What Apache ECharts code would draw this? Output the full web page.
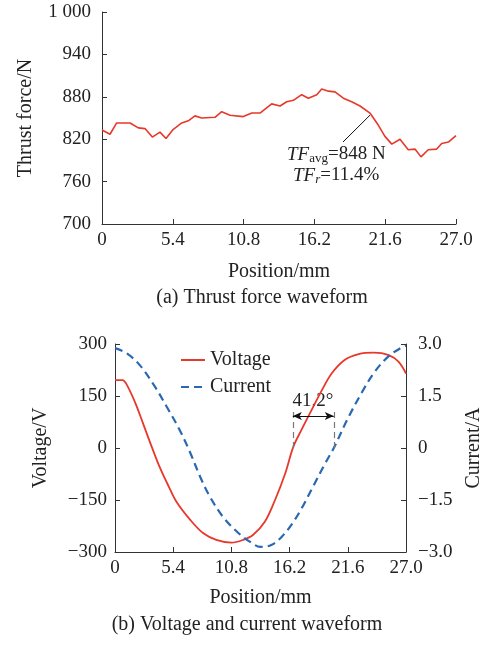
<!DOCTYPE html>
<html>
<head>
<meta charset="utf-8">
<script src="https://cdn.jsdelivr.net/npm/echarts@6/dist/echarts.min.js"></script>
<style>
  html, body { margin: 0; padding: 0; background: #fff; }
  #chart { width: 481px; height: 648px; }
</style>
</head>
<body>
<div id="chart"></div>
<script>
// (a) thrust force waveform
const forcePos = [0, 0.61, 1.12, 2.14, 2.77, 3.28, 3.84, 4.42, 4.88, 5.44, 6.08, 6.58, 7.09, 7.6, 8.62,
  9.13, 9.76, 10.78, 11.42, 12.05, 12.94, 13.58, 14.09, 14.6, 15.23, 15.74, 16.38, 16.76, 17.27,
  17.77, 18.41, 19.04, 19.68, 20.44, 21.07, 21.58, 22.1, 22.73, 23.36, 23.87, 24.33, 24.88,
  25.53, 25.91, 26.42, 27.0];
const forceVal = [833, 827, 843, 843, 836, 835, 823, 830, 821, 834, 843, 846, 853, 850, 851,
  859, 854, 852, 857, 857, 870, 867, 873, 875, 883, 878, 883, 891, 888,
  887, 878, 873, 867, 857, 840, 824, 813, 820, 805, 806, 795, 805,
  806, 814, 816, 825];
const forceTicks = [700, 760, 820, 880, 940, 1000];

// (b) voltage and current waveform
const voltPos = [0, 0.7, 1.1, 1.9, 2.6, 3.4, 4.2, 5.0, 5.7, 7.0, 8.2, 9.4, 10.8, 11.9, 12.8, 13.9,
  14.85, 15.8, 16.55, 17.3, 18.25, 19.2, 20.1, 21.3, 22.6, 24.0, 25.4, 26.3, 27.0];
const voltVal = [196, 196, 182, 129, 71, 4, -59, -112, -155, -208, -246, -265, -273, -265, -251, -213,
  -150, -73, 4, 52, 110, 167, 215, 254, 271, 275, 268, 249, 215];
const currPos = [0, 1.1, 2.3, 3.6, 4.8, 6.0, 7.0, 7.9, 8.8, 10.0, 11.3, 12.5, 13.5, 14.5, 15.5, 16.4,
  17.3, 18.4, 19.4, 20.3, 21.6, 22.9, 24.1, 25.4, 26.6, 27.0];
const currVal = [2.88, 2.73, 2.39, 1.82, 1.19, 0.52, -0.15, -0.83, -1.4, -1.98, -2.41, -2.7, -2.85, -2.8,
  -2.55, -2.2, -1.75, -1.1, -0.5, 0.0, 0.85, 1.6, 2.2, 2.65, 2.9, 2.95];

const posTicks = [0, 5.4, 10.8, 16.2, 21.6, 27.0];
const phaseMarks = [16.5, 20.3];   // zero crossings of voltage and current
const phaseText = '41.2°';

const font = '"Liberation Serif", "DejaVu Serif", serif';
const ink = '#222';
const red = '#e8382b';
const blue = '#2a68b2';

const pair = (xs, ys) => xs.map((x, i) => [x, ys[i]]);
const minus = s => String(s).replace('-', '\u2212');

const axisBase = {
  type: 'value',
  axisLine: { show: true, onZero: false, lineStyle: { color: '#333', width: 1 } },
  axisTick: { show: true, inside: true, length: 5, lineStyle: { color: '#333' } },
  axisLabel: { color: ink, fontFamily: font, fontSize: 19 },
  splitLine: { show: false },
  nameTextStyle: { color: ink, fontFamily: font, fontSize: 20 },
  nameLocation: 'middle'
};

const posAxis = (gridIndex, gap) => ({
  ...axisBase,
  gridIndex,
  min: 0,
  max: 27,
  name: 'Position/mm',
  nameGap: gap,
  axisTick: { ...axisBase.axisTick, customValues: posTicks },
  axisLabel: {
    ...axisBase.axisLabel,
    margin: 7,
    customValues: posTicks,
    formatter: v => (v === 0 ? '0' : v.toFixed(1))
  }
});

const chart = echarts.init(document.getElementById('chart'), null, { renderer: 'canvas' });

chart.setOption({
  animation: false,
  grid: [
    { left: 102, right: 25, top: 12, bottom: 424, outerBoundsMode: 'none' },
    { left: 115, right: 75, top: 344, bottom: 96, outerBoundsMode: 'none' }
  ],
  legend: {
    data: ['Voltage', 'Current'],
    orient: 'vertical',
    left: 175,
    top: 345,
    itemWidth: 24,
    itemHeight: 14,
    itemGap: 7,
    itemStyle: { opacity: 0 },
    textStyle: { color: ink, fontFamily: font, fontSize: 20 }
  },
  xAxis: [posAxis(0, 38), posAxis(1, 36)],
  yAxis: [
    {
      ...axisBase,
      gridIndex: 0,
      min: 700,
      max: 1000,
      name: 'Thrust force/N',
      nameGap: 66,
      axisTick: { ...axisBase.axisTick, customValues: forceTicks },
      axisLabel: {
        ...axisBase.axisLabel,
        margin: 11,
        customValues: forceTicks,
        formatter: v => (v === 1000 ? '1 000' : String(v))
      }
    },
    {
      ...axisBase,
      gridIndex: 1,
      min: -300,
      max: 300,
      interval: 150,
      name: 'Voltage/V',
      nameGap: 64,
      axisLabel: { ...axisBase.axisLabel, margin: 8, formatter: v => minus(v) }
    },
    {
      ...axisBase,
      gridIndex: 1,
      position: 'right',
      min: -3,
      max: 3,
      interval: 1.5,
      name: 'Current/A',
      nameGap: 54,
      nameRotate: 90,
      axisLabel: {
        ...axisBase.axisLabel,
        margin: 12,
        formatter: v => minus(v === 0 ? '0' : v.toFixed(1))
      }
    }
  ],
  series: [
    {
      name: 'Thrust force',
      type: 'line',
      xAxisIndex: 0,
      yAxisIndex: 0,
      data: pair(forcePos, forceVal),
      showSymbol: false,
      symbol: 'none',
      lineStyle: { color: red, width: 1.6 },
      markLine: {
        silent: true,
        symbol: ['none', 'none'],
        label: { show: false },
        lineStyle: { color: '#111', width: 1, type: 'solid' },
        data: [[{ coord: [20.44, 854] }, { coord: [18.38, 816] }]]
      }
    },
    {
      name: 'Voltage',
      type: 'line',
      xAxisIndex: 1,
      yAxisIndex: 1,
      data: pair(voltPos, voltVal),
      smooth: 0.35,
      showSymbol: false,
      symbol: 'none',
      itemStyle: { color: red },
      lineStyle: { color: red, width: 1.8 },
      markLine: {
        silent: true,
        symbol: ['none', 'none'],
        label: { show: false },
        lineStyle: { color: '#777', width: 1.2, type: [6, 4] },
        data: [
          [{ coord: [phaseMarks[0], 0] }, { coord: [phaseMarks[0], 115] }],
          [{ coord: [phaseMarks[1], 0] }, { coord: [phaseMarks[1], 115] }],
          [
            { coord: [phaseMarks[0], 92], symbol: 'arrow', lineStyle: { color: '#111', type: 'solid', width: 1 } },
            { coord: [phaseMarks[1], 92], symbol: 'arrow' }
          ]
        ],
        symbolSize: [6, 9]
      }
    },
    {
      name: 'Current',
      type: 'line',
      xAxisIndex: 1,
      yAxisIndex: 2,
      data: pair(currPos, currVal),
      smooth: 0.35,
      showSymbol: false,
      symbol: 'none',
      itemStyle: { color: blue },
      lineStyle: { color: blue, width: 2.2, type: [8, 5] }
    }
  ],
  graphic: [
    {
      type: 'text',
      left: 287,
      top: 145,
      style: {
        text: '{i|TF}{s|avg}{n|=848 N}',
        rich: {
          i: { fontFamily: font, fontStyle: 'italic', fontSize: 19, fill: ink },
          s: { fontFamily: font, fontSize: 13, fill: ink, padding: [9, 0, 0, 0] },
          n: { fontFamily: font, fontSize: 19, fill: ink }
        }
      }
    },
    {
      type: 'text',
      left: 293,
      top: 166,
      style: {
        text: '{i|TF}{s|r}{n|=11.4%}',
        rich: {
          i: { fontFamily: font, fontStyle: 'italic', fontSize: 19, fill: ink },
          s: { fontFamily: font, fontStyle: 'italic', fontSize: 13, fill: ink, padding: [9, 0, 0, 0] },
          n: { fontFamily: font, fontSize: 19, fill: ink }
        }
      }
    },
    {
      type: 'text',
      x: 313,
      y: 401,
      style: { text: phaseText, fontFamily: font, fontSize: 19, fill: ink, align: 'center', verticalAlign: 'middle' }
    },
    {
      type: 'text',
      x: 262,
      y: 298,
      style: { text: '(a) Thrust force waveform', fontFamily: font, fontSize: 20, fill: ink, align: 'center', verticalAlign: 'middle' }
    },
    {
      type: 'text',
      x: 247,
      y: 625,
      style: { text: '(b) Voltage and current waveform', fontFamily: font, fontSize: 20, fill: ink, align: 'center', verticalAlign: 'middle' }
    }
  ]
});
</script>
</body>
</html>
